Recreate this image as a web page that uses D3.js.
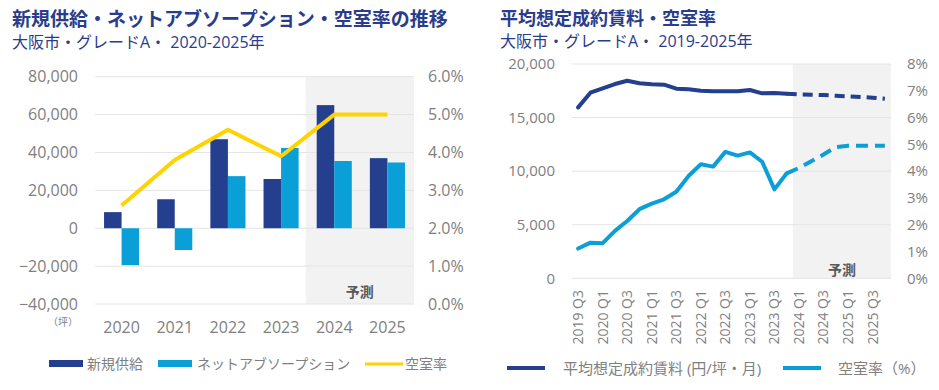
<!DOCTYPE html>
<html><head><meta charset="utf-8">
<script src="https://cdn.jsdelivr.net/npm/d3@7"></script>
<style>
body{margin:0;background:#fff;}
svg{display:block;font-family:"Open Sans","Noto Sans CJK JP",sans-serif;}
</style></head>
<body><svg id="c" width="939" height="390"></svg>
<script>
// ---------- Data: left chart ----------
const years = ["2020","2021","2022","2023","2024","2025"];
const newSupply = [8500, 15300, 47000, 26000, 65000, 37000];
const netAbsorption = [-19500, -11500, 27500, 42400, 35500, 34700];
const vacancyAnnual = [2.6, 3.8, 4.6, 3.9, 5.0, 5.0];
const leftTicks = [-40000, -20000, 0, 20000, 40000, 60000, 80000];
const leftRightTicks = [0, 1, 2, 3, 4, 5, 6];
const forecastYears = ["2024","2025"];

// ---------- Data: right chart ----------
const quarters = ["2019 Q3","2019 Q4","2020 Q1","2020 Q2","2020 Q3","2020 Q4","2021 Q1","2021 Q2","2021 Q3","2021 Q4",
  "2022 Q1","2022 Q2","2022 Q3","2022 Q4","2023 Q1","2023 Q2","2023 Q3","2023 Q4",
  "2024 Q1","2024 Q2","2024 Q3","2024 Q4","2025 Q1","2025 Q2","2025 Q3","2025 Q4"];
const rent = [15950,17320,17730,18130,18440,18200,18100,18070,17700,17640,17510,17450,17450,17450,17570,17260,17290,17230,
  17170,17140,17100,17040,16980,16920,16860,16760];
const vacancyQ = [1.11,1.33,1.31,1.77,2.14,2.58,2.79,2.95,3.23,3.82,4.26,4.17,4.72,4.58,4.70,4.35,3.32,3.92,
  4.12,4.37,4.62,4.90,4.95,4.95,4.95,4.95];
const lastActualIdx = 17;
const rightTicks = [0, 5000, 10000, 15000, 20000];
const rightPctTicks = [0,1,2,3,4,5,6,7,8];

const NAVY = "#233f8e", LIGHT = "#0b9fd8", YELLOW = "#ffd200";
const GRID = "#e4e4e4", SHADE = "#f2f2f2", LBL = "#808080", TITLE = "#2a3d8c";
const fmt = d3.format(",");

const svg = d3.select("#c");

// ================= LEFT CHART =================
{
  const x0 = 95, x1 = 414, yTop = 76.7, yBot = 304;
  const x = d3.scaleBand().domain(years).range([x0, x1]).paddingInner(0.34).paddingOuter(0.17);
  const xs = d3.scaleBand().domain(["s","a"]).range([0, x.bandwidth()]);
  const y = d3.scaleLinear().domain([-40000, 80000]).range([yBot, yTop]);
  const y2 = d3.scaleLinear().domain([0, 6]).range([yBot, yTop]);
  const g = svg.append("g");

  // forecast shade
  const fx = x(forecastYears[0]) - x.step() * x.paddingInner() / 2 - 2;
  g.append("rect").attr("x", fx).attr("y", yTop).attr("width", x1 - fx).attr("height", yBot - yTop).attr("fill", SHADE);
  g.append("text").attr("x", (fx + x1) / 2).attr("y", 297).attr("text-anchor", "middle")
    .attr("font-size", 14).attr("font-weight", "bold").attr("fill", "#595959").text("予測");

  // grid
  g.selectAll(".gl").data(leftTicks).join("line")
    .attr("x1", x0).attr("x2", x1).attr("y1", d => y(d)).attr("y2", d => y(d))
    .attr("stroke", GRID).attr("stroke-width", 1);

  // left axis labels
  g.selectAll(".yl").data(leftTicks).join("text")
    .attr("x", 78).attr("y", d => y(d)).attr("dy", "0.35em").attr("text-anchor", "end")
    .attr("font-size", 16).attr("fill", LBL).text(d => fmt(d));
  g.selectAll(".yr").data(leftRightTicks).join("text")
    .attr("x", 428).attr("y", d => y2(d)).attr("dy", "0.35em").attr("text-anchor", "start")
    .attr("font-size", 16).attr("fill", LBL).text(d => d.toFixed(1) + "%");
  g.append("text").attr("x", 63).attr("y", 322).attr("dy", "0.35em").attr("text-anchor", "middle")
    .attr("font-size", 10).attr("fill", LBL).text("（坪）");

  // x labels
  g.selectAll(".xl").data(years).join("text")
    .attr("x", d => x(d) + x.bandwidth() / 2).attr("y", 327).attr("dy", "0.35em").attr("text-anchor", "middle")
    .attr("font-size", 16).attr("fill", LBL).text(d => d);

  // bars
  g.selectAll(".bs").data(years).join("rect")
    .attr("x", d => x(d) + xs("s")).attr("width", xs.bandwidth())
    .attr("y", (d, i) => y(Math.max(0, newSupply[i]))).attr("height", (d, i) => Math.abs(y(newSupply[i]) - y(0)))
    .attr("fill", NAVY);
  g.selectAll(".ba").data(years).join("rect")
    .attr("x", d => x(d) + xs("a")).attr("width", xs.bandwidth())
    .attr("y", (d, i) => y(Math.max(0, netAbsorption[i]))).attr("height", (d, i) => Math.abs(y(netAbsorption[i]) - y(0)))
    .attr("fill", LIGHT);

  // vacancy line
  const line = d3.line().x((d, i) => x(years[i]) + x.bandwidth() / 2).y(d => y2(d));
  g.append("path").attr("d", line(vacancyAnnual)).attr("fill", "none")
    .attr("stroke", YELLOW).attr("stroke-width", 4).attr("stroke-linejoin", "round");

  // titles
  svg.append("text").attr("x", 12).attr("y", 26).attr("font-size", 19).attr("font-weight", "bold")
    .attr("fill", TITLE).text("新規供給・ネットアブソープション・空室率の推移");
  svg.append("text").attr("x", 12).attr("y", 48).attr("font-size", 16)
    .attr("fill", TITLE).text("大阪市・グレードA・ 2020-2025年");

  // legend
  const lg = svg.append("g");
  lg.append("rect").attr("x", 49).attr("y", 360).attr("width", 34).attr("height", 7).attr("fill", NAVY);
  lg.append("text").attr("x", 87).attr("y", 364).attr("dy", "0.35em").attr("font-size", 14).attr("fill", LBL).text("新規供給");
  lg.append("rect").attr("x", 158).attr("y", 360).attr("width", 34).attr("height", 7).attr("fill", LIGHT);
  lg.append("text").attr("x", 197).attr("y", 364).attr("dy", "0.35em").attr("font-size", 14).attr("fill", LBL).text("ネットアブソープション");
  lg.append("line").attr("x1", 365).attr("x2", 403).attr("y1", 364).attr("y2", 364).attr("stroke", YELLOW).attr("stroke-width", 3);
  lg.append("text").attr("x", 405).attr("y", 364).attr("dy", "0.35em").attr("font-size", 14).attr("fill", LBL).text("空室率");
}

// ================= RIGHT CHART =================
{
  const x0 = 572, x1 = 891, yTop = 64, yBot = 278.3;
  const x = d3.scaleBand().domain(quarters).range([x0, x1]).padding(0);
  const cx = q => x(q) + x.bandwidth() / 2;
  const y = d3.scaleLinear().domain([0, 20000]).range([yBot, yTop]);
  const y2 = d3.scaleLinear().domain([0, 8]).range([yBot, yTop]);
  const g = svg.append("g");

  const fx = x(quarters[lastActualIdx + 1]);
  g.append("rect").attr("x", fx).attr("y", yTop).attr("width", x1 - fx).attr("height", yBot - yTop).attr("fill", SHADE);
  g.append("text").attr("x", 842).attr("y", 275).attr("text-anchor", "middle")
    .attr("font-size", 14).attr("font-weight", "bold").attr("fill", "#595959").text("予測");

  g.selectAll(".gl").data(rightTicks).join("line")
    .attr("x1", x0).attr("x2", x1).attr("y1", d => y(d)).attr("y2", d => y(d))
    .attr("stroke", GRID).attr("stroke-width", 1);

  g.selectAll(".yl").data(rightTicks).join("text")
    .attr("x", 555).attr("y", d => y(d)).attr("dy", "0.35em").attr("text-anchor", "end")
    .attr("font-size", 15).attr("fill", LBL).text(d => fmt(d));
  g.selectAll(".yr").data(rightPctTicks).join("text")
    .attr("x", 907).attr("y", d => y2(d)).attr("dy", "0.35em").attr("text-anchor", "start")
    .attr("font-size", 15).attr("fill", LBL).text(d => d + "%");

  // rotated x labels (every other quarter)
  const shown = quarters.filter((q, i) => i % 2 === 0);
  g.selectAll(".xl").data(shown).join("text")
    .attr("transform", d => `translate(${cx(d)},290) rotate(-90)`)
    .attr("dy", "0.35em").attr("text-anchor", "end")
    .attr("font-size", 14).attr("fill", LBL).text(d => d);

  const lineR = d3.line().x(d => cx(quarters[d.i])).y(d => y(d.v));
  const lineV = d3.line().x(d => cx(quarters[d.i])).y(d => y2(d.v));
  const rentPts = rent.map((v, i) => ({i, v}));
  const vacPts = vacancyQ.map((v, i) => ({i, v}));

  g.append("path").attr("d", lineR(rentPts.slice(0, lastActualIdx + 1))).attr("fill", "none")
    .attr("stroke", NAVY).attr("stroke-width", 4).attr("stroke-linejoin", "round").attr("stroke-linecap", "round");
  g.append("path").attr("d", lineR(rentPts.slice(lastActualIdx))).attr("fill", "none")
    .attr("stroke", NAVY).attr("stroke-width", 4).attr("stroke-dasharray", "10,6");
  g.append("path").attr("d", lineV(vacPts.slice(0, lastActualIdx + 1))).attr("fill", "none")
    .attr("stroke", LIGHT).attr("stroke-width", 4).attr("stroke-linejoin", "round").attr("stroke-linecap", "round");
  g.append("path").attr("d", lineV(vacPts.slice(lastActualIdx))).attr("fill", "none")
    .attr("stroke", LIGHT).attr("stroke-width", 4).attr("stroke-dasharray", "12,7");

  svg.append("text").attr("x", 500).attr("y", 25).attr("font-size", 18).attr("font-weight", "bold")
    .attr("fill", TITLE).text("平均想定成約賃料・空室率");
  svg.append("text").attr("x", 500).attr("y", 47).attr("font-size", 16)
    .attr("fill", TITLE).text("大阪市・グレードA・ 2019-2025年");

  const lg = svg.append("g");
  lg.append("line").attr("x1", 507).attr("x2", 545).attr("y1", 368).attr("y2", 368).attr("stroke", NAVY).attr("stroke-width", 4);
  lg.append("text").attr("x", 563).attr("y", 369).attr("dy", "0.35em").attr("font-size", 15).attr("fill", LBL).text("平均想定成約賃料 (円/坪・月)");
  lg.append("line").attr("x1", 783).attr("x2", 821).attr("y1", 368).attr("y2", 368).attr("stroke", LIGHT).attr("stroke-width", 4);
  lg.append("text").attr("x", 838).attr("y", 369).attr("dy", "0.35em").attr("font-size", 15).attr("fill", LBL).text("空室率（%）");
}
</script></body></html>
